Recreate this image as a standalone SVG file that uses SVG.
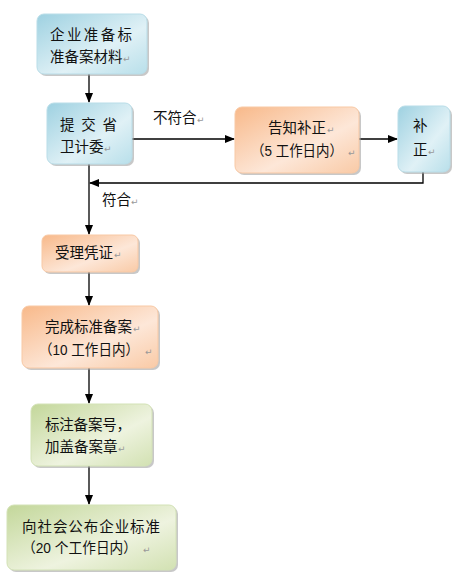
<svg xmlns="http://www.w3.org/2000/svg" width="463" height="582" viewBox="0 0 463 582">
<defs>
<linearGradient id="gb" x1="0" y1="0" x2="1" y2="1">
<stop offset="0" stop-color="#9ed1e1"/><stop offset="0.6" stop-color="#e0f1f6"/><stop offset="1" stop-color="#b8dfea"/>
</linearGradient>
<linearGradient id="go" x1="0" y1="0" x2="1" y2="1">
<stop offset="0" stop-color="#f8b98a"/><stop offset="0.6" stop-color="#fde7d8"/><stop offset="1" stop-color="#f9caa6"/>
</linearGradient>
<linearGradient id="gg" x1="0" y1="0" x2="1" y2="1">
<stop offset="0" stop-color="#c3d79a"/><stop offset="0.6" stop-color="#eef3df"/><stop offset="1" stop-color="#d2e1b2"/>
</linearGradient>
<marker id="ah" markerWidth="10" markerHeight="8" refX="9" refY="4" orient="auto" markerUnits="userSpaceOnUse">
<path d="M0,0 L10,4 L0,8 Z" fill="#000"/>
</marker>
</defs>
<style>
text{font-family:"Noto Sans CJK SC","Noto Sans",sans-serif;font-size:14.5px;fill:#111}
.pm{font-family:"DejaVu Sans",sans-serif;font-size:9px;fill:#999}
.sh{fill:#9a9a9a;opacity:0.55}
.b{stroke-width:1}
.blue{fill:url(#gb);stroke:#b9dde8}
.orange{fill:url(#go);stroke:#f8c9a5}
.green{fill:url(#gg);stroke:#d3e2b6}
.c{fill:none;stroke:#000;stroke-width:1.3}
</style>

<g id="connectors">
<line class="c" x1="89" y1="74" x2="89" y2="102" marker-end="url(#ah)"/>
<line class="c" x1="132" y1="139" x2="234" y2="139" marker-end="url(#ah)"/>
<line class="c" x1="359" y1="139" x2="397" y2="139" marker-end="url(#ah)"/>
<polyline class="c" points="423,172 423,183 90,183" marker-end="url(#ah)"/>
<line class="c" x1="89" y1="164" x2="89" y2="234" marker-end="url(#ah)"/>
<line class="c" x1="89" y1="272" x2="89" y2="305" marker-end="url(#ah)"/>
<line class="c" x1="89" y1="368" x2="89" y2="403" marker-end="url(#ah)"/>
<line class="c" x1="89" y1="466" x2="89" y2="504" marker-end="url(#ah)"/>
<text x="153" y="123">不符合</text><text class="pm" x="197" y="123">↵</text>
<text x="102" y="205">符合</text><text class="pm" x="131" y="205">↵</text>
</g>

<g id="n1">
<rect class="sh" x="39" y="16" width="110" height="60" rx="7"/>
<rect class="blue b" x="37" y="14" width="110" height="60" rx="7"/>
<text x="50" y="40" textLength="82" lengthAdjust="spacing">企业准备标</text>
<text x="50" y="62">准备案材料</text><text class="pm" x="123" y="62">↵</text>
</g>

<g id="n2">
<rect class="sh" x="49" y="105" width="85" height="61" rx="7"/>
<rect class="blue b" x="47" y="103" width="85" height="61" rx="7"/>
<text x="60" y="130" textLength="57" lengthAdjust="spacing">提 交 省</text>
<text x="60" y="152">卫计委</text><text class="pm" x="104" y="152">↵</text>
</g>

<g id="n3">
<rect class="sh" x="237" y="109" width="124" height="66" rx="7"/>
<rect class="orange b" x="235" y="107" width="124" height="66" rx="7"/>
<text x="268" y="133">告知补正</text><text class="pm" x="327" y="133">↵</text>
<text x="251" y="156" textLength="92" lengthAdjust="spacingAndGlyphs">（<tspan font-family="Liberation Sans">5 </tspan>工作日内）</text><text class="pm" x="348" y="156">↵</text>
</g>

<g id="n4">
<rect class="sh" x="400" y="108" width="52" height="66" rx="7"/>
<rect class="blue b" x="398" y="106" width="52" height="66" rx="7"/>
<text x="413" y="131">补</text>
<text x="413" y="155">正</text><text class="pm" x="428" y="155">↵</text>
</g>

<g id="n5">
<rect class="sh" x="44" y="237" width="96" height="37" rx="6"/>
<rect class="orange b" x="42" y="235" width="96" height="37" rx="6"/>
<text x="55" y="258">受理凭证</text><text class="pm" x="114" y="258">↵</text>
</g>

<g id="n6">
<rect class="sh" x="24" y="308" width="136" height="62" rx="7"/>
<rect class="orange b" x="22" y="306" width="136" height="62" rx="7"/>
<text x="45" y="332">完成标准备案</text><text class="pm" x="133" y="332">↵</text>
<text x="39" y="355" textLength="100" lengthAdjust="spacingAndGlyphs">（<tspan font-family="Liberation Sans">10 </tspan>工作日内）</text><text class="pm" x="145" y="355">↵</text>
</g>

<g id="n7">
<rect class="sh" x="33" y="406" width="121" height="62" rx="7"/>
<rect class="green b" x="31" y="404" width="121" height="62" rx="7"/>
<text x="45" y="430" textLength="86" lengthAdjust="spacing">标注备案号，</text>
<text x="45" y="452">加盖备案章</text><text class="pm" x="118" y="452">↵</text>
</g>

<g id="n8">
<rect class="sh" x="9" y="507" width="169" height="65" rx="7"/>
<rect class="green b" x="7" y="505" width="169" height="65" rx="7"/>
<text x="22" y="532" textLength="138" lengthAdjust="spacing">向社会公布企业标准</text>
<text x="22" y="553" textLength="115" lengthAdjust="spacingAndGlyphs">（<tspan font-family="Liberation Sans">20 </tspan>个工作日内）</text><text class="pm" x="143" y="553">↵</text>
</g>
</svg>
